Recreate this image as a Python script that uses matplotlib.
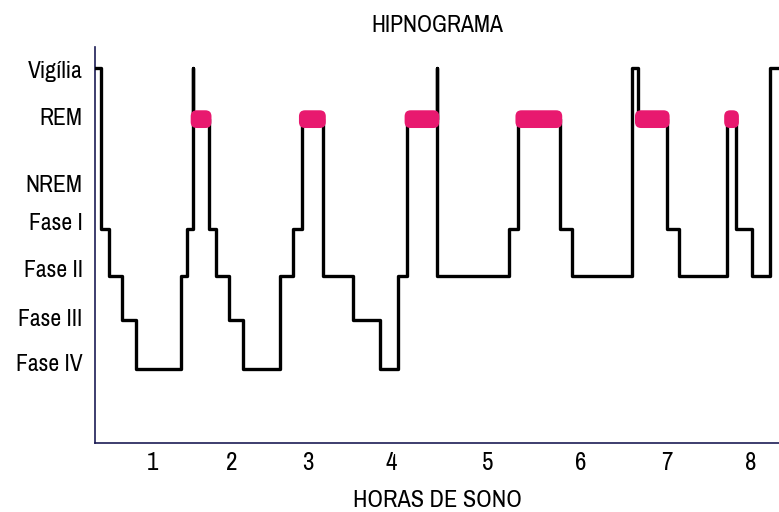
import numpy as np
import matplotlib
matplotlib.use("Agg")
import matplotlib.pyplot as plt
from matplotlib.patches import FancyBboxPatch

plt.rcParams['font.family'] = ['Archivo Narrow', 'Liberation Sans', 'DejaVu Sans']

# stage levels on the vertical axis
levels = {'Vigília': 7.45, 'REM': 6.35, 'Fase I': 4.0, 'Fase II': 3.0,
          'Fase III': 2.05, 'Fase IV': 1.0}

# y tick labels and where they sit
ytick_labels = ['Vigília', 'REM', 'NREM', 'Fase I', 'Fase II', 'Fase III', 'Fase IV']
ytick_pos = [7.41, 6.40, 4.98, 4.15, 3.16, 2.11, 1.13]

# hours of sleep (x tick labels)
xtick_labels = ['1', '2', '3', '4', '5', '6', '7', '8']
xtick_pos = [1.11, 2.02, 2.90, 3.87, 4.98, 6.05, 7.05, 8.02]

# start time (h) of each stage segment
times = [0.44, 0.52, 0.61, 0.76, 0.92, 1.44, 1.51, 1.58, 1.58, 1.76,
         1.84, 1.99, 2.15, 2.58, 2.73, 2.83, 3.08, 3.42, 3.74, 3.94,
         4.05, 4.39, 4.39, 5.22, 5.33, 5.81, 5.95, 6.64, 6.71, 7.05,
         7.19, 7.74, 7.85, 8.03, 8.24, 8.34]
stages = ['Vigília', 'Fase I', 'Fase II', 'Fase III', 'Fase IV', 'Fase II', 'Fase I', 'Vigília', 'REM', 'Fase I',
          'Fase II', 'Fase III', 'Fase IV', 'Fase II', 'Fase I', 'REM', 'Fase II', 'Fase III', 'Fase IV', 'Fase II',
          'REM', 'Vigília', 'Fase II', 'Fase I', 'REM', 'Fase I', 'Fase II', 'Vigília', 'REM', 'Fase I',
          'Fase II', 'REM', 'Fase I', 'Fase II', 'Vigília', 'Vigília']

y = np.array([levels[s] for s in stages])
t = np.array(times)

fig = plt.figure(figsize=(7.79, 5.12), dpi=100)
ax = fig.add_axes([95 / 779, 69 / 512, 684 / 779, 396 / 512])

ax.plot(t, y, drawstyle='steps-post', color='black', lw=2.4, zorder=3)

# pink REM blocks
for i in range(len(stages) - 1):
    if stages[i] == 'REM':
        x0 = t[i] - 0.03
        w = t[i + 1] - t[i] + 0.06
        blob = FancyBboxPatch((x0, levels['REM'] - 0.19), w, 0.38,
                              boxstyle='round,pad=0,rounding_size=0.07',
                              mutation_aspect=1.85, facecolor='#e8196f',
                              edgecolor='none', zorder=4)
        ax.add_patch(blob)

ax.set_xlim(0.445, 8.343)
ax.set_ylim(-0.585, 7.895)

ax.set_xticks(xtick_pos)
ax.set_xticklabels(xtick_labels, fontsize=18)
ax.set_yticks(ytick_pos)
ax.set_yticklabels(ytick_labels, fontsize=17)
ax.tick_params(axis='x', length=0, pad=6)
ax.tick_params(axis='y', length=0, pad=9)

for side in ['top', 'right']:
    ax.spines[side].set_visible(False)
for side in ['left', 'bottom']:
    ax.spines[side].set_color('#1c1c55')
    ax.spines[side].set_linewidth(1.2)

ax.set_title('HIPNOGRAMA', fontsize=17, pad=11)
ax.set_xlabel('HORAS DE SONO', fontsize=17.5, labelpad=11)

fig.savefig('out.png', dpi=100)
